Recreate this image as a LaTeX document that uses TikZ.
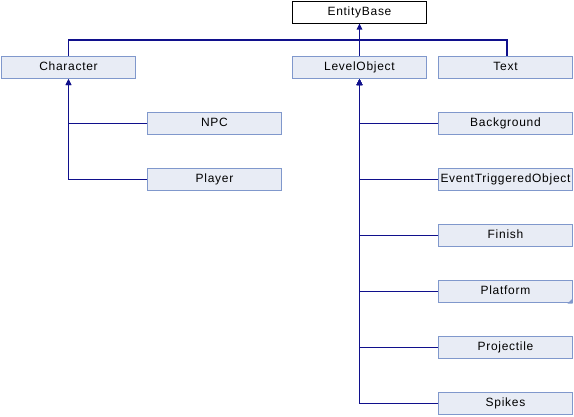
\documentclass[tikz,border=0pt]{standalone}
\usepackage{fontspec}
\setmainfont{Liberation Sans}[LetterSpace=6]
\usetikzlibrary{arrows.meta}
\definecolor{boxfill}{RGB}{232,236,245}
\definecolor{boxline}{RGB}{128,152,204}
\definecolor{edgecol}{RGB}{16,16,140}
\tikzset{
  cls/.style={draw=boxline, fill=boxfill, line width=1pt, minimum width=134pt, minimum height=22pt, inner sep=0pt, text height=9pt, text depth=2.5pt, font=\fontsize{12}{14}\selectfont},
  root/.style={cls, draw=black, fill=white},
  link/.style={draw=edgecol, line width=1.1pt},
  inh/.style={link, -{Triangle[length=6pt,width=5.5pt]}}
}
\begin{document}
\begin{tikzpicture}[x=1pt,y=-1pt]
\useasboundingbox (0,0) rectangle (574,416);
\node[root] (eb) at (359.5,12) {EntityBase};
\node[cls] (ch) at (68.5,67.5) {Character};
\node[cls] (lo) at (359.5,67.5) {LevelObject};
\node[cls] (tx) at (505.5,67.5) {Text};
\node[cls] (npc) at (214.5,123.5) {NPC};
\node[cls] (pl) at (214.5,179.5) {Player};
\node[cls] (bg) at (505.5,123.5) {Background};
\node[cls] (et) at (505.5,179.5) {EventTriggeredObject};
\node[cls] (fi) at (505.5,235.5) {Finish};
\node[cls] (pf) at (505.5,291.5) {Platform};
\node[cls] (pr) at (505.5,347.5) {Projectile};
\node[cls] (sp) at (505.5,403.5) {Spikes};
\coordinate (bus) at (0,40);
\fill[boxline] ([xshift=-0.5pt,yshift=-0.5pt]pf.south east) -- ++(-5,0) -- ++(5,-5) -- cycle;
% top level
\draw[link] (ch.north) |- ([xshift=1.5pt]tx.north |- bus) -- ([xshift=1.5pt]tx.north);
\draw[inh] (lo.north) -- (eb.south);
% Character children
\draw[inh] (npc.west) -| (ch.south);
\draw[inh] (pl.west) -| (ch.south);
% LevelObject children
\draw[inh] (bg.west) -| (lo.south);
\draw[inh] (et.west) -| (lo.south);
\draw[inh] (fi.west) -| (lo.south);
\draw[inh] (pf.west) -| (lo.south);
\draw[inh] (pr.west) -| (lo.south);
\draw[inh] (sp.west) -| (lo.south);
\end{tikzpicture}
\end{document}
